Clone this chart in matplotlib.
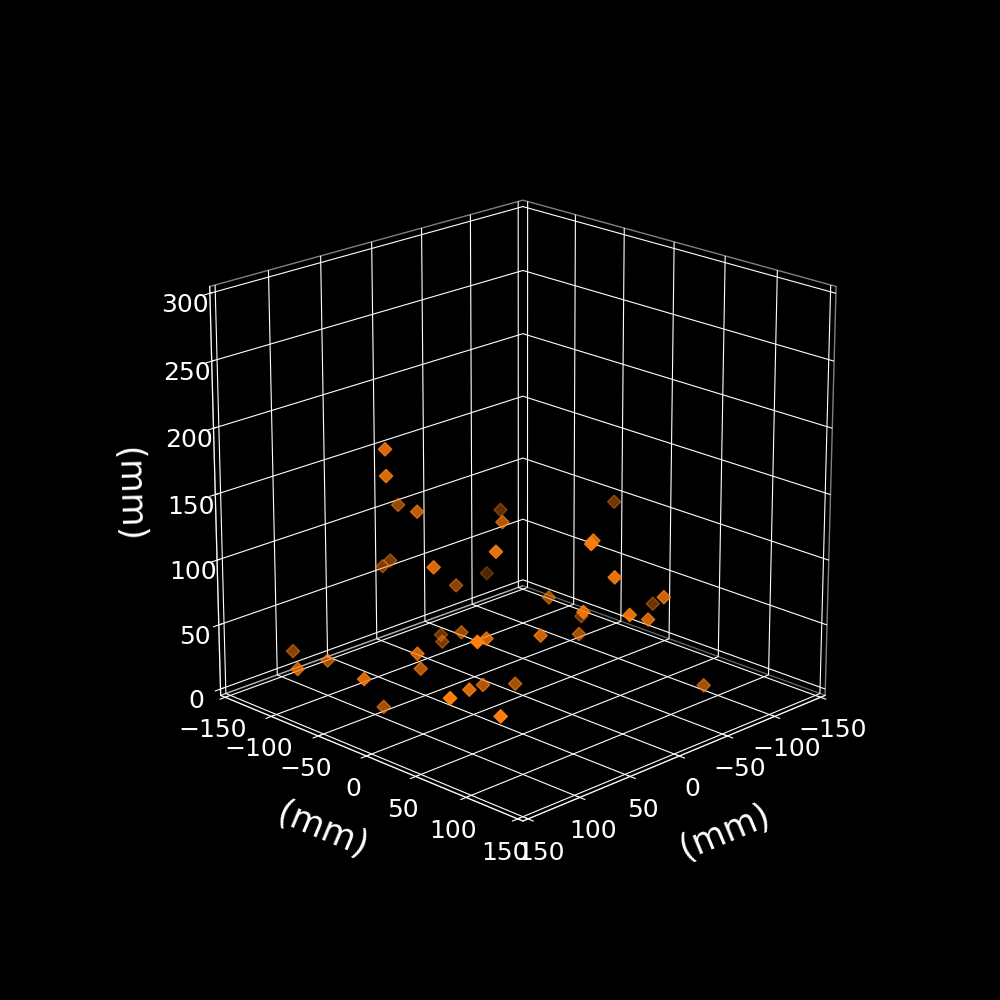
import matplotlib
matplotlib.use('Agg')
import matplotlib.pyplot as plt

x_mm = [61, 65, 1, 31, -106, -24, 35, -107, 57, -28, -6,
        -11, -154, -28, -1, -20, -67, -156, -55, -21, -61, -11,
        -116, -57, 2, -112, 69, 119, 78, 111, 57, 68, 44,
        -38, -24, -9, 84, 30, 107, 60, 15, -15, 85]
y_mm = [-78, -73, -129, -77, -130, -45, 8, -146, -33, -98, -154,
        -151, -57, 43, 67, 72, 76, -18, 72, 86, -34, 50,
        -54, 1, 20, 75, -172, -111, -124, -49, -87, -39, -61,
        -125, -109, -73, 39, -7, 35, 6, -26, -23, 63]
z_mm = [180, 162, 109, 125, 77, 111, 118, 21, 101, 46, 52,
        56, 90, 119, 130, 101, 74, 18, 59, 76, 45, 71,
        9, 27, 48, -8, 0, 18, 9, 26, -23, 36, 11,
        -4, -1, 21, 72, 46, 35, 19, 0, -7, 23]

xy_ticks = [-150, -100, -50, 0, 50, 100, 150]
z_ticks = [0, 50, 100, 150, 200, 250, 300]

plt.rcParams['font.size'] = 18
fig = plt.figure(figsize=(10, 10), dpi=100, facecolor='black')
ax = fig.add_subplot(projection='3d', facecolor='black')
ax.scatter(x_mm, y_mm, z_mm, marker='D', s=46, c='#ff7f0e')
ax.view_init(elev=20, azim=45)
ax.set_xlim(-155, 155)
ax.set_ylim(-155, 155)
ax.set_zlim(-5, 305)
ax.set_box_aspect((1, 1, 1), zoom=0.95)
ax.set_xticks(xy_ticks)
ax.set_yticks(xy_ticks)
ax.set_zticks(z_ticks)

for axis in (ax.xaxis, ax.yaxis, ax.zaxis):
    axis.pane.set_facecolor('black')
    axis.pane.set_edgecolor((1, 1, 1, 0.5))
    axis.line.set_color('white')
    axis._axinfo['grid']['color'] = 'white'
    axis._axinfo['tick']['color'] = 'white'
    axis.label.set_color('white')
    axis.set_tick_params(colors='white', labelsize=18)
    axis.set_rotate_label(True)

ax.set_xlabel('(mm)', fontsize=25, labelpad=20)
ax.set_ylabel('(mm)', fontsize=25, labelpad=19)
ax.set_zlabel('(mm)', fontsize=25, labelpad=20)

fig.savefig('out.png', dpi=100, facecolor='black')
